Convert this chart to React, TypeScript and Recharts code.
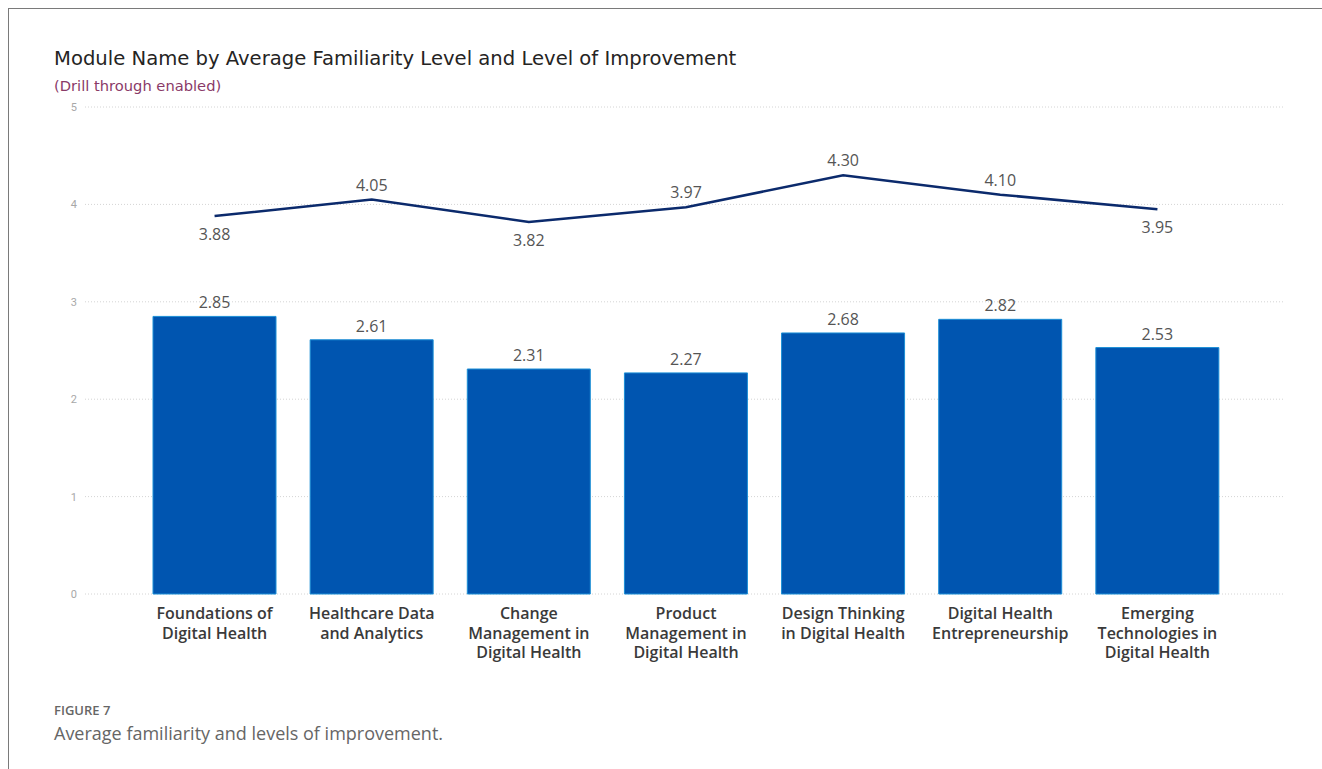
import React from 'react';
import { ComposedChart, Bar, Line, XAxis, YAxis, CartesianGrid, LabelList } from 'recharts';

const modules = [
  'Foundations of\nDigital Health',
  'Healthcare Data\nand Analytics',
  'Change\nManagement in\nDigital Health',
  'Product\nManagement in\nDigital Health',
  'Design Thinking\nin Digital Health',
  'Digital Health\nEntrepreneurship',
  'Emerging\nTechnologies in\nDigital Health',
];
const familiarity = [2.85, 2.61, 2.31, 2.27, 2.68, 2.82, 2.53];
const improvement = [3.88, 4.05, 3.82, 3.97, 4.3, 4.1, 3.95];
const yTicks = [0, 1, 2, 3, 4, 5];

const data = modules.map((m, i) => ({ name: m, familiarity: familiarity[i], improvement: improvement[i] }));

const XTick = (props: any) => {
  const { x, y, payload } = props;
  const lines = String(payload.value).split('\n');
  return (
    <g transform={`translate(${x},${y})`}>
      {lines.map((l, i) => (
        <text key={i} x={0} y={17 + i * 19.5} textAnchor="middle" fill="#3a3a3a" fontSize={16} fontWeight={600}
          fontFamily="'Open Sans', sans-serif">{l}</text>
      ))}
    </g>
  );
};

const LineLabel = (props: any) => {
  const { x, y, value, index } = props;
  const v = improvement[index];
  const prev = index > 0 ? improvement[index - 1] : undefined;
  const next = index < improvement.length - 1 ? improvement[index + 1] : undefined;
  const below = (prev === undefined || v < prev) && (next === undefined || v < next);
  return (
    <text x={x} y={below ? y + 24 : y - 9} textAnchor="middle" fill="#555" fontSize={16}
      fontFamily="'Open Sans', sans-serif">{Number(value).toFixed(2)}</text>
  );
};

export default function App() {
  return (
    <div style={{ position: 'absolute', left: 0, top: 0, width: 1322, height: 769, background: '#fff', overflow: 'hidden' }}>
      <div style={{ position: 'absolute', left: 8, top: 8, width: 1314, height: 1, background: '#7a7a7a' }} />
      <div style={{ position: 'absolute', left: 8, top: 8, width: 1, height: 761, background: '#7a7a7a' }} />
      <div style={{ position: 'absolute', left: 54, top: 47, lineHeight: '24px', fontSize: 19.6, color: '#252423', fontFamily: "'DejaVu Sans', sans-serif", whiteSpace: 'nowrap' }}>
        Module Name by Average Familiarity Level and Level of Improvement
      </div>
      <div style={{ position: 'absolute', left: 54, top: 77, lineHeight: '18px', fontSize: 14.7, color: '#8a3a68', fontFamily: "'DejaVu Sans', sans-serif", whiteSpace: 'nowrap' }}>
        (Drill through enabled)
      </div>
      <div style={{ position: 'absolute', left: 0, top: 0 }}>
        <ComposedChart width={1322} height={769} data={data} margin={{ top: 107, right: 37, bottom: 95, left: 65 }}>
          <CartesianGrid vertical={false} stroke="#d4d4d4" strokeDasharray="1 2" />
          <XAxis dataKey="name" axisLine={false} tickLine={false} tick={<XTick />} height={80}
            padding={{ left: 51, right: 49 }} interval={0} />
          <YAxis domain={[0, 5]} ticks={yTicks} width={20} axisLine={false} tickLine={false}
            tick={{ fill: '#a8a8a8', fontSize: 11, fontFamily: 'Roboto, sans-serif' }} />
          <Bar dataKey="familiarity" fill="#0055b0" stroke="#1c8fd6" strokeWidth={1} barSize={123} isAnimationActive={false}>
            <LabelList dataKey="familiarity" position="top" offset={8} fill="#555" fontSize={16}
              fontFamily="'Open Sans', sans-serif" formatter={(v: any) => Number(v).toFixed(2)} />
          </Bar>
          <Line dataKey="improvement" type="linear" stroke="#0b2a6c" strokeWidth={2.5} dot={false} isAnimationActive={false}>
            <LabelList dataKey="improvement" content={<LineLabel />} />
          </Line>
        </ComposedChart>
      </div>
      <div style={{ position: 'absolute', left: 54, top: 701, lineHeight: '18px', fontSize: 13, color: '#666', fontWeight: 600, fontFamily: "'Open Sans', sans-serif" }}>
        FIGURE 7
      </div>
      <div style={{ position: 'absolute', left: 54, top: 722, lineHeight: '22px', fontSize: 18, color: '#666', fontFamily: "'Open Sans', sans-serif", whiteSpace: 'nowrap' }}>
        Average familiarity and levels of improvement.
      </div>
    </div>
  );
}
